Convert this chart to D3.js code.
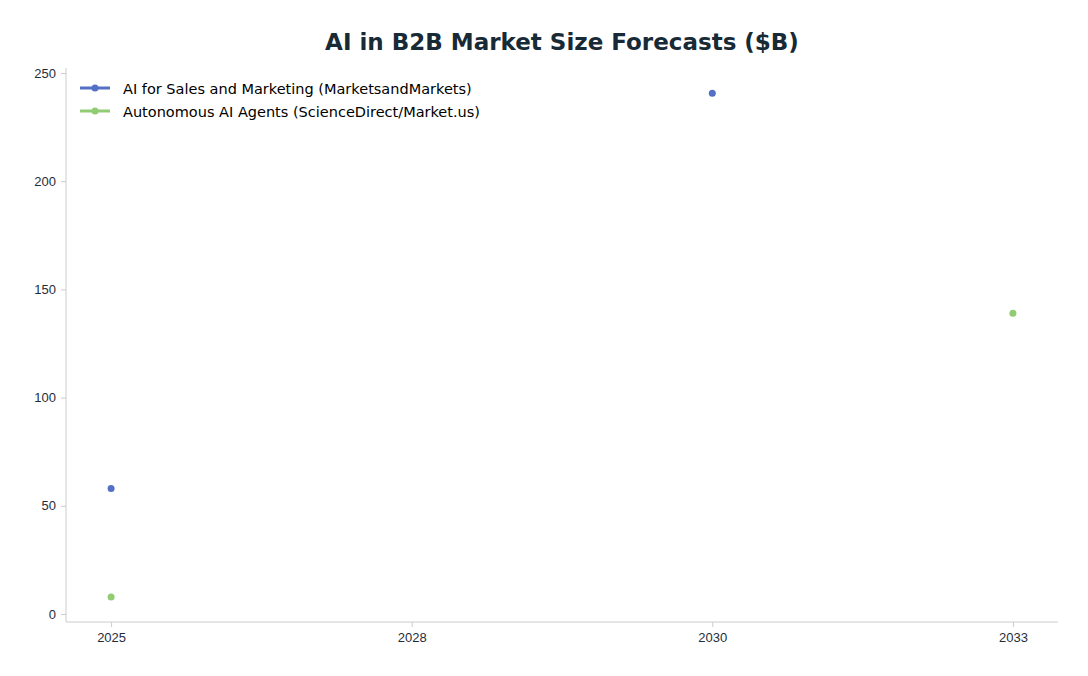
<!DOCTYPE html>
<html>
<head>
<meta charset="utf-8">
<script src="https://cdn.jsdelivr.net/npm/d3@7"></script>
<style>
  body { margin: 0; background: #fff; font-family: "DejaVu Sans", sans-serif; }
  .axis text { font-size: 13px; fill: #1f2d3a; }
  .axis path, .axis line { stroke: #ccc; }
</style>
</head>
<body>
<svg id="chart" width="1088" height="676"></svg>
<script>
const years = ["2025", "2028", "2030", "2033"];
const salesValues = [58, null, 240.6, null];
const agentValues = [7.8, null, null, 139];
const yTicks = [0, 50, 100, 150, 200, 250];
const seriesNames = ["AI for Sales and Marketing (MarketsandMarkets)", "Autonomous AI Agents (ScienceDirect/Market.us)"];
const colors = ["#5470c6", "#91cc75"];

const svg = d3.select("#chart");
const plotLeft = 66, plotRight = 1058, plotTop = 68, plotBottom = 622;

const x = d3.scalePoint().domain(years).range([plotLeft, plotRight]).padding(0.15);
const y = d3.scaleLinear().domain([-3.7, 252.3]).range([plotBottom, plotTop]);

svg.append("text")
  .attr("x", 562).attr("y", 50)
  .attr("text-anchor", "middle")
  .attr("font-size", "23px").attr("font-weight", "bold")
  .attr("fill", "#172a36")
  .text("AI in B2B Market Size Forecasts ($B)");

svg.append("g").attr("class", "axis")
  .attr("transform", "translate(0," + plotBottom + ")")
  .call(d3.axisBottom(x).tickSize(5).tickPadding(6))
  .call(g => g.select(".domain").attr("d", "M" + plotLeft + ",0H" + plotRight));

svg.append("g").attr("class", "axis")
  .attr("transform", "translate(" + plotLeft + ",0)")
  .call(d3.axisLeft(y).tickValues(yTicks).tickSize(5).tickPadding(5))
  .call(g => g.select(".domain").attr("d", "M0," + plotTop + "V" + plotBottom));

[salesValues, agentValues].forEach((vals, i) => {
  const data = years.map((yr, j) => ({ yr, v: vals[j] }));
  const line = d3.line().defined(d => d.v != null).x(d => x(d.yr)).y(d => y(d.v));
  svg.append("path").datum(data).attr("d", line)
    .attr("fill", "none").attr("stroke", colors[i]).attr("stroke-width", 2.5);
  svg.selectAll(null).data(data.filter(d => d.v != null)).enter()
    .append("circle")
    .attr("cx", d => x(d.yr)).attr("cy", d => y(d.v)).attr("r", 3.5)
    .attr("fill", colors[i]);
});

const legend = svg.append("g").attr("transform", "translate(80,88)");
seriesNames.forEach((name, i) => {
  const g = legend.append("g").attr("transform", "translate(0," + i * 23 + ")");
  g.append("line").attr("x1", 0).attr("x2", 30).attr("stroke", colors[i]).attr("stroke-width", 3);
  g.append("circle").attr("cx", 15).attr("r", 3.5).attr("fill", colors[i]);
  g.append("text").attr("x", 43).attr("y", 5.5).attr("font-size", "14.5px").attr("fill", "#000").text(name);
});
</script>
</body>
</html>
